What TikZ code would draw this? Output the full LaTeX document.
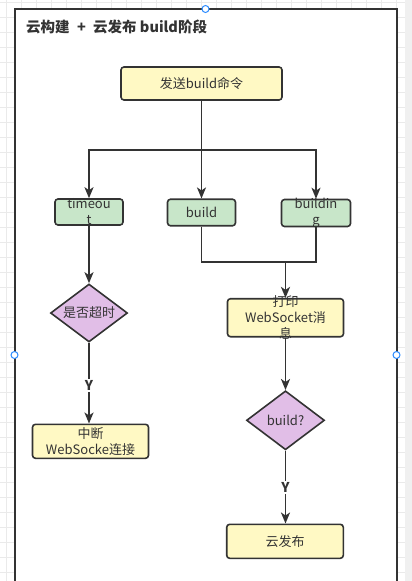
\documentclass[tikz,border=0pt]{standalone}
\usepackage{fontspec}
\setmainfont{Noto Sans CJK SC}
\usetikzlibrary{arrows.meta,shapes.geometric}
\definecolor{ink}{HTML}{333333}
\definecolor{yel}{HTML}{FFF9C4}
\definecolor{grn}{HTML}{C8E6C9}
\definecolor{pur}{HTML}{E1BEE7}
\definecolor{gridc}{HTML}{EAEAEA}
\definecolor{strip}{HTML}{F0F0F0}
\definecolor{hand}{HTML}{2D8CFF}
\begin{document}
\begin{tikzpicture}[x=1pt,y=-1pt,
  box/.style={draw=ink, line width=1.6pt, rounded corners=3pt, inner sep=0pt},
  ybox/.style={box, fill=yel},
  gbox/.style={box, fill=grn},
  decbox/.style={diamond, draw=ink, fill=pur, line width=1.6pt, inner sep=0pt},
  lbl/.style={font=\fontsize{13}{16}\selectfont, text=ink, align=center, inner sep=0pt},
  conn/.style={draw=ink, line width=1.9pt},
  arr/.style={conn, -{Stealth[length=11pt,width=9pt,inset=3pt]}},
  ylab/.style={fill=white, font=\fontsize{13.5}{15}\selectfont\bfseries, text=ink, inner sep=1.5pt},
  handle/.style={circle, draw=hand, fill=white, line width=1pt, minimum size=7pt, inner sep=0pt}
]
\useasboundingbox (0,0) rectangle (412,581);
\clip (0,0) rectangle (412,581);
% background and grid
\fill[white] (0,0) rectangle (412,581);
\foreach \x in {6.7,21.7,...,400} \draw[gridc, line width=0.8pt] (\x,0) -- (\x,581);
\foreach \y in {2.3,17.3,...,585} \draw[gridc, line width=0.8pt] (0,\y) -- (405,\y);
\fill[strip] (405,0) rectangle (412,581);
% container
\draw[ink, fill=white, line width=2pt] (14.5,9) rectangle (396.5,620);
\node[anchor=base west, font=\fontsize{14.5}{16}\selectfont\bfseries, text=ink, inner sep=0pt] (title) at (26,32) {云构建\hspace{4pt} + \hspace{4pt}云发布 build阶段};
% nodes
\node[ybox, minimum width=161pt, minimum height=33pt, label={[lbl]center:发送build命令}] (send) at (201.5,83.5) {};
\node[gbox, minimum width=68pt, minimum height=26pt, label={[lbl]center:{timeou\\t}}] (timeout) at (89,212) {};
\node[gbox, minimum width=68pt, minimum height=26.5pt, label={[lbl]center:build}] (build) at (201.5,212.5) {};
\node[gbox, minimum width=69pt, minimum height=27pt, label={[lbl]center:{buildin\\g}}] (building) at (316,213) {};
\node[decbox, minimum width=77pt, minimum height=58pt, label={[lbl]center:是否超时}] (dec1) at (89,313) {};
\node[ybox, minimum width=116pt, minimum height=34pt, label={[lbl]center:{中断\\WebSocke连接}}] (stop) at (90.5,441.3) {};
\node[ybox, minimum width=116pt, minimum height=38pt, label={[lbl]center:{打印\\WebSocket消\\息}}] (print) at (285.5,317.7) {};
\node[decbox, minimum width=78pt, minimum height=59pt, label={[lbl]center:build?}] (dec2) at (285.5,420.3) {};
\node[ybox, minimum width=116.6pt, minimum height=34pt, label={[lbl]center:云发布}] (pub) at (285,541.3) {};
% connectors
\coordinate (j1) at (201.5,150);
\coordinate (j2) at (285.5,262);
\draw[conn] (send.south) -- (j1);
\draw[arr] (j1) -| (timeout.north);
\draw[arr] (j1) -- (build.north);
\draw[arr] (j1) -| (building.north);
\draw[conn] (build.south) |- (j2);
\draw[conn] (building.south) |- (j2);
\draw[arr] (j2) -- (print.north);
\draw[arr] (timeout.south) -- (dec1.north);
\draw[arr] (dec1.south) -- node[ylab, pos=0.53] (y1) {Y} (dec1.south |- stop.north);
\draw[arr] (print.south) -- (dec2.north);
\draw[arr] (dec2.south) -- node[ylab, pos=0.5] (y2) {Y} (dec2.south |- pub.north);
% selection handles
\node[handle] (h1) at (205.5,9) {};
\node[handle] (h2) at (14.5,355) {};
\node[handle] (h3) at (396.5,355) {};
\end{tikzpicture}
\end{document}
